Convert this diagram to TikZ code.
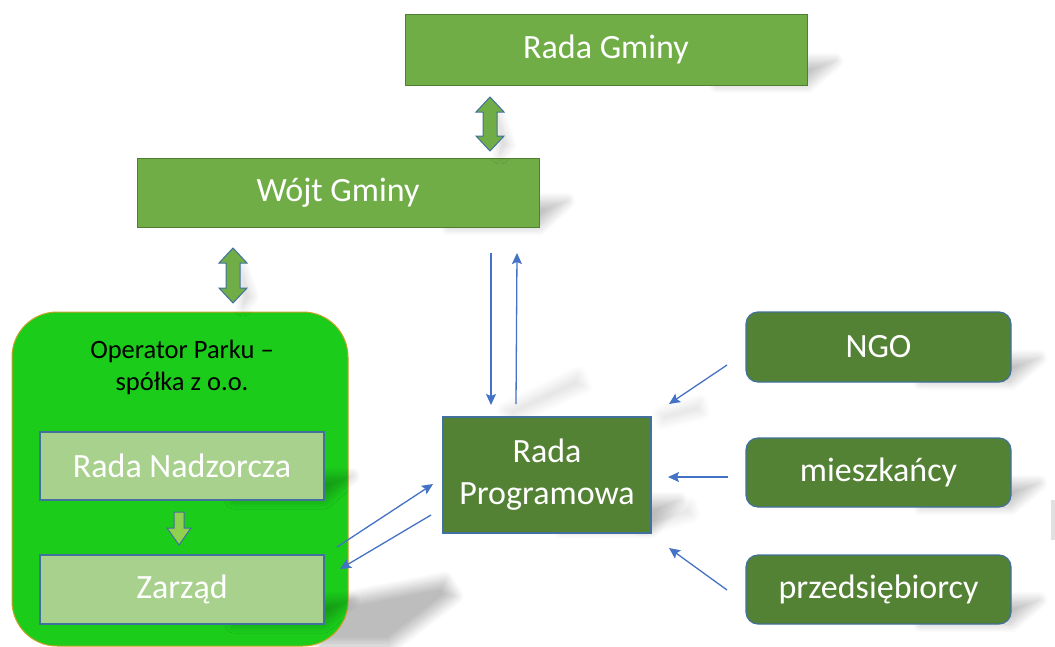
\documentclass[tikz,border=0pt]{standalone}
\usepackage{fontspec}
\setmainfont{Carlito}
\usetikzlibrary{arrows.meta,shadows.blur}

\definecolor{midgreen}{HTML}{70AD47}
\definecolor{midgreenline}{HTML}{507E32}
\definecolor{darkgreen}{HTML}{548235}
\definecolor{palegreen}{HTML}{A9D18E}
\definecolor{limegreen}{HTML}{92D050}
\definecolor{brightgreen}{HTML}{1BCC1B}
\definecolor{goldline}{HTML}{C9A227}
\definecolor{steelline}{HTML}{41719C}
\definecolor{linkblue}{HTML}{4472C4}

\tikzset{
  boxtext/.style={text=white, font=\fontsize{34}{42}\selectfont, align=center, inner sep=0pt},
  topbox/.style={boxtext, draw=midgreenline, fill=midgreen, line width=1pt},
  progbox/.style={boxtext, draw=steelline, fill=darkgreen, line width=1.2pt},
  sidebox/.style={progbox, rounded corners=12pt},
  innerbox/.style={boxtext, draw=steelline, fill=palegreen, line width=1.2pt},
  companybox/.style={draw=goldline, fill=brightgreen, line width=1pt, rounded corners=45pt, inner sep=0pt},
  blockarrow/.style={draw=steelline, line width=1pt, line join=miter},
  link/.style={draw=linkblue, line width=1.3pt, -{Stealth[length=11pt,width=10pt,inset=2pt]}},
  softshadow/.style={blur shadow={shadow xshift=0pt, shadow yshift=0pt, shadow opacity=#1, shadow blur radius=9pt, shadow blur steps=12}},
  softshadow/.default=24
}

% slanted soft shadow cast to the right of a box: right edge x, bottom y, height
\newcommand\castshadow[3]{%
  \path[softshadow] (#1-90,#2) -- (#1,#2) -- (#1+28,#2-#3) -- (#1-62,#2-#3) -- cycle;}

% vertical double-headed block arrow: centre x, top tip y, bottom tip y, head length
\newcommand\twowayarrow[4]{%
  \path[softshadow=18] (#1+8,#2+#4+4) -- (#1+10,#3+4) -- (#1+18,#3-6) -- cycle;
  \draw[blockarrow, fill=midgreen]
    (#1,#2) -- (#1+14,#2+#4) -- (#1+7,#2+#4) -- (#1+7,#3-#4) -- (#1+14,#3-#4)
    -- (#1,#3) -- (#1-14,#3-#4) -- (#1-7,#3-#4) -- (#1-7,#2+#4) -- (#1-14,#2+#4) -- cycle;}

\begin{document}
\begin{tikzpicture}[x=1pt,y=-1pt]
\useasboundingbox (0,0) rectangle (1055,646);

% shadows lying under the boxes
\castshadow{807}{85}{24}
\castshadow{539}{227}{26}
\path[softshadow=26] (320,604) -- (445,580) -- (455,596) -- (390,646) -- (320,646) -- cycle;
\castshadow{651}{530}{30}
\castshadow{1011}{382}{24}
\castshadow{1011}{507}{24}
\castshadow{1011}{624}{24}
\path[softshadow=12] (505,410) -- (578,374) -- (584,386) -- (512,418) -- cycle;
\path[softshadow=12] (660,414) -- (700,402) -- (702,412) -- (662,422) -- cycle;
\path[softshadow=12] (640,520) -- (690,505) -- (692,515) -- (642,530) -- cycle;

% municipal bodies
\node[topbox, minimum width=402pt, minimum height=71pt] (rg) at (606,49.5) {Rada Gminy};
\node[topbox, minimum width=402pt, minimum height=69pt] (wg) at (338,192.5) {Wójt Gminy};

% operating company with its organs
\node[companybox, minimum width=336pt, minimum height=334pt] (op) at (180,479) {};
\node[inner sep=0pt, align=center, font=\fontsize{26.5}{32}\selectfont] (optext) at (182,367)
  {Operator Parku –\\spółka z o.o.};
\castshadow{324}{500}{24}
\castshadow{324}{624}{24}
\node[innerbox, minimum width=284pt, minimum height=68pt] (rn) at (182,466) {Rada Nadzorcza};
\node[innerbox, minimum width=284pt, minimum height=69pt] (za) at (182,589.5) {Zarząd};

% programme council and stakeholders
\node[progbox, minimum width=208pt, minimum height=116pt] (rp) at (547,475) {Rada\\Programowa};
\node[sidebox, minimum width=265pt, minimum height=70pt] (ngo) at (878.5,347) {NGO};
\node[sidebox, minimum width=265pt, minimum height=69pt] (mi) at (878.5,472.5) {mieszkańcy};
\node[sidebox, minimum width=265pt, minimum height=69pt] (pr) at (878.5,589.5) {przedsiębiorcy};

% block arrows
\twowayarrow{490}{97}{151}{15}
\twowayarrow{233}{248}{303}{15}
\draw[blockarrow, fill=limegreen]
  (174,512) -- (184,512) -- (184,528) -- (191,528) -- (179,545) -- (167,528) -- (174,528) -- cycle;

% free ends of the thin connectors
\coordinate (wgdown) at (491,253);
\coordinate (rpup)   at (491,405);
\coordinate (rpout)  at (516,404);
\coordinate (wgup)   at (517,253);
\coordinate (zaout)  at (337,547);
\coordinate (rpin)   at (433,484);
\coordinate (rpleft) at (431,515);
\coordinate (zain)   at (340,569);
\coordinate (ngoout) at (727,365);
\coordinate (ngoin)  at (669,404);
\coordinate (miout)  at (728,477);
\coordinate (miin)   at (668,477);
\coordinate (prout)  at (727,590);
\coordinate (prin)   at (669,548);

% thin connectors
\draw[link] (wgdown) -- (rpup);
\draw[link] (rpout) -- (wgup);
\draw[link] (zaout) -- (rpin);
\draw[link] (rpleft) -- (zain);
\draw[link] (ngoout) -- (ngoin);
\draw[link] (miout) -- (miin);
\draw[link] (prout) -- (prin);

% edge of a neighbouring shape at the right border
\fill[black!12] (1051,500) rectangle (1055,540);
\end{tikzpicture}
\end{document}
